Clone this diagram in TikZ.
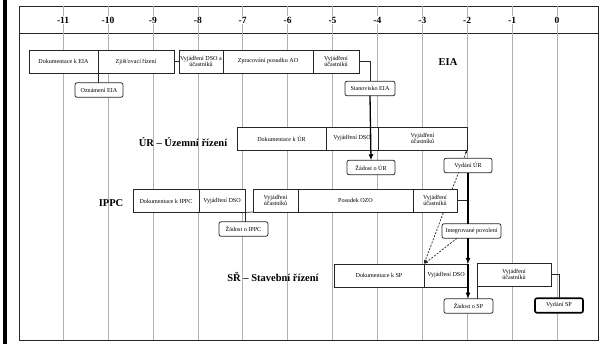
\documentclass[tikz,border=0pt]{standalone}
\usepackage{fontspec}
\setmainfont{Liberation Serif}
\usetikzlibrary{arrows.meta,positioning,backgrounds}
\tikzset{%
    stage/.style={%
        rectangle, draw=black!85, line width=0.7pt, fill=white, minimum height=23pt, inner sep=1pt, outer sep=0pt,
        align=center, font=\fontsize{6.1}{6.8}\selectfont
    },
    event/.style={%
        rectangle, rounded corners=2pt, draw=black!85, line width=0.75pt, fill=white, minimum height=14.5pt, inner sep=1pt,
        outer sep=0pt, font=\fontsize{6.1}{6.8}\selectfont
    },
    final/.style={%
        event, line width=1.6pt, draw=black
    },
    phase/.style={%
        font=\fontsize{10.5}{12}\selectfont\bfseries
    },
    year/.style={%
        fill=white, inner sep=1pt, font=\fontsize{9.5}{11}\selectfont\bfseries
    },
    colline/.style={%
        draw=gray!60, line width=0.5pt
    },
    link/.style={%
        draw=black!85, line width=0.7pt
    },
    flow/.style={%
        draw=black, line width=1.3pt, ->
    },
    hint/.style={%
        draw=black!85, line width=0.7pt, dash pattern=on 2pt off 1.4pt, -{Latex[length=4pt,width=3pt]}
    },
}

\begin{document}
\begin{tikzpicture}[x=1pt, y=-1pt, >={Latex[length=6pt,width=5pt]}]
      \useasboundingbox (0,0) rectangle (605,344);
      \fill[black] (3,0) rectangle (7,344);

      % frame and time axis
      \draw[line width=0.8pt, black!85] (19,6) rectangle (598,340);
      \draw[line width=0.8pt, black!85] (19,33) -- (598,33);
      \foreach \i in {-11,...,0} {
        \draw[colline] (557+44.9*\i,6) -- (557+44.9*\i,340);
        \node[year] (tick\i) at (557+44.9*\i,20) {\i};
      }

      % EIA
      \node[stage, minimum width=69pt, anchor=west] (eiadok) at (29,61.5) {Dokumentace k EIA};
      \node[stage, minimum width=76pt, right=0pt of eiadok] (eiazjis) {Zjišťovací řízení};
      \node[stage, minimum width=44pt, anchor=west] (eiadso) at (179,61.5) {Vyjádření DSO a\\účastníků};
      \node[stage, minimum width=90pt, right=0pt of eiadso] (eiaao) {Zpracování posudku AO};
      \node[stage, minimum width=46pt, right=0pt of eiaao] (eiaucast) {Vyjádření\\účastníků};
      \node[event, minimum width=48pt] (oznameni) at (99,90) {Oznámení EIA};
      \node[event, minimum width=50pt] (stanovisko) at (370,88.5) {Stanovisko EIA};
      \node[phase] (eia) at (448,62) {EIA};

      % UR
      \node[phase] (ur) at (183,142) {ÚR – Územní řízení};
      \node[stage, minimum width=89pt, anchor=west] (urdok) at (237,138.5) {Dokumentace k ÚR};
      \node[stage, minimum width=52pt, right=0pt of urdok] (urdso) {Vyjádření DSO};
      \node[stage, minimum width=89pt, right=0pt of urdso] (urucast) {Vyjádření\\účastníků};
      \node[event, minimum width=48pt] (zadostur) at (371,167.5) {Žádost o ÚR};
      \node[event, minimum width=48pt] (vydaniur) at (468,165.5) {Vydání ÚR};

      % IPPC
      \node[phase] (ippc) at (111,203) {IPPC};
      \node[stage, minimum width=66pt, anchor=west] (ippcdok) at (133,201) {Dokumentace k IPPC};
      \node[stage, minimum width=46pt, right=0pt of ippcdok] (ippcdso) {Vyjádření DSO};
      \node[stage, minimum width=45pt, anchor=west] (ippcucast) at (253,200.5) {Vyjádření\\účastníků};
      \node[stage, minimum width=115pt, right=0pt of ippcucast] (ippcozo) {Posudek OZO};
      \node[stage, minimum width=44pt, right=0pt of ippcozo] (ippcucastb) {Vyjádření\\účastníků};
      \node[event, minimum width=49pt] (zadostippc) at (243.5,229) {Žádost o IPPC};
      \node[event, minimum width=59pt] (integr) at (471.5,231) {Integrované povolení};

      % SR
      \node[phase] (sr) at (273,277) {SŘ – Stavební řízení};
      \node[stage, minimum width=90pt, anchor=west] (srdok) at (334,275.5) {Dokumentace k SP};
      \node[stage, minimum width=44pt, right=0pt of srdok] (srdso) {Vyjádření DSO};
      \node[stage, minimum width=74pt] (srucast) at (514,274.5) {Vyjádření\\účastníků};
      \node[event, minimum width=49pt] (zadostsp) at (468.5,306) {Žádost o SP};
      \node[final, minimum width=48pt] (vydanisp) at (559,305.5) {Vydání SP};

      % connectors
      \draw[link] (eiazjis.east) -- (eiadso.west);
      \draw[link] (eiadok.south east) -- (eiadok.south east |- oznameni.north);
      \draw[link] (eiaucast.east) -| (stanovisko.north);
      \draw[flow] (stanovisko.south) -- (zadostur.north);
      \draw[link] (ippcdso.south east) -- (ippcdso.south east |- zadostippc.north);
      \draw[link] (ippcdso.south east) -- (ippcucast.south west);
      \draw[link] (ippcucastb.east) -- (ippcucastb.east -| vydaniur.south);
      \draw[flow, -] (vydaniur.south) -- (vydaniur.south |- integr.north);
      \draw[flow] (vydaniur.south |- integr.south) -- (srdso.north east);
      \draw[flow] (srdso.north east) -- (srdso.north east |- zadostsp.north);
      \draw[link] (srucast.south west) -- (srucast.south west |- zadostsp.north);
      \draw[link] (srucast.east) -| (vydanisp.north);

      \begin{scope}[on background layer]
        \draw[hint, {Latex[length=3pt,width=2.4pt]}-{Latex[length=4pt,width=3pt]}] (urucast.south east) -- (srdso.north west);
        \draw[hint] ([xshift=15pt]integr.south west) -- (srdso.north west);
      \end{scope}
    \end{tikzpicture}
\end{document}
